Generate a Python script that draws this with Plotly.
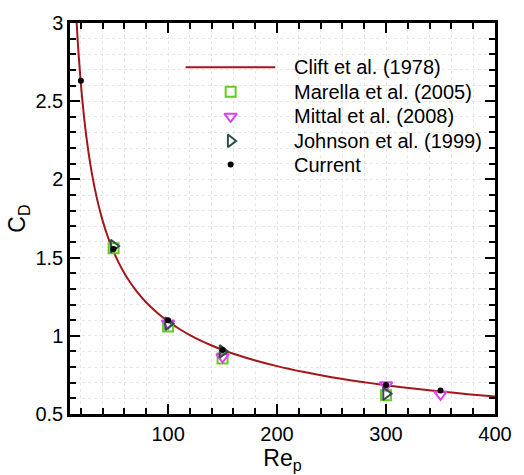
import plotly.graph_objects as go

# Drag coefficient of a sphere versus particle Reynolds number
# Correlation curve (Clift et al. 1978), sampled
clift_re = [16, 17, 18, 20, 22, 25, 30, 35, 40, 45, 50, 55, 60, 65, 70, 75, 80,
            85, 90, 95, 100, 110, 120, 130, 140, 150, 160, 180, 200, 225, 250,
            275, 300, 325, 350, 375, 400]
clift_cd = [3.01, 2.895, 2.79, 2.61, 2.459, 2.274, 2.042, 1.869, 1.735, 1.627,
            1.538, 1.463, 1.399, 1.344, 1.295, 1.252, 1.213, 1.179, 1.147,
            1.118, 1.092, 1.045, 1.005, 0.969, 0.938, 0.910, 0.885, 0.842,
            0.806, 0.768, 0.735, 0.708, 0.684, 0.663, 0.644, 0.627, 0.612]

marella_re = [50, 100, 150, 300]
marella_cd = [1.56, 1.06, 0.855, 0.62]

mittal_re = [100, 150, 300, 350]
mittal_cd = [1.08, 0.865, 0.685, 0.625]

johnson_re = [50, 100, 150, 300]
johnson_cd = [1.574, 1.077, 0.90, 0.63]

current_re = [20, 50, 100, 150, 300, 350]
current_cd = [2.63, 1.555, 1.10, 0.91, 0.685, 0.65]

FONT = "Liberation Sans, Arial, sans-serif"

# Series styles (also reused for the legend block)
series = [
    dict(name="Clift et al. (1978)", x=clift_re, y=clift_cd, mode="lines",
         line=dict(color="#a3161c", width=2), marker=None),
    dict(name="Marella et al. (2005)", x=marella_re, y=marella_cd, mode="markers",
         line=None,
         marker=dict(symbol="square-open", size=10, color="#66cc22",
                     line=dict(width=2, color="#66cc22"))),
    dict(name="Mittal et al. (2008)", x=mittal_re, y=mittal_cd, mode="markers",
         line=None,
         marker=dict(symbol="triangle-down-open", size=11, color="#e040f0",
                     line=dict(width=2, color="#e040f0"))),
    dict(name="Johnson et al. (1999)", x=johnson_re, y=johnson_cd, mode="markers",
         line=None,
         marker=dict(symbol="triangle-right-open", size=11, color="#2f4f4f",
                     line=dict(width=2, color="#2f4f4f"))),
    dict(name="Current", x=current_re, y=current_cd, mode="markers", line=None,
         marker=dict(symbol="circle", size=6, color="black")),
]

fig = go.Figure()
for s in series:
    kw = dict(x=s["x"], y=s["y"], mode=s["mode"], name=s["name"], showlegend=False)
    if s["line"] is not None:
        kw["line"] = dict(s["line"], shape="spline", smoothing=0.6)
    if s["marker"] is not None:
        kw["marker"] = s["marker"]
    fig.add_trace(go.Scatter(**kw))

# Legend block drawn on a unit overlay axis (fractions of the plot area)
LEG_LINE_X = (0.272, 0.483)
LEG_SYM_X = 0.378
LEG_TEXT_X = 0.522
LEG_ROWS_Y = [0.887, 0.824, 0.761, 0.6985, 0.638]
for s, ry in zip(series, LEG_ROWS_Y):
    if s["mode"] == "lines":
        fig.add_trace(go.Scatter(x=list(LEG_LINE_X), y=[ry, ry], mode="lines",
                                 line=s["line"], xaxis="x2", yaxis="y2",
                                 showlegend=False, hoverinfo="skip"))
    else:
        fig.add_trace(go.Scatter(x=[LEG_SYM_X], y=[ry], mode="markers",
                                 marker=s["marker"], xaxis="x2", yaxis="y2",
                                 showlegend=False, hoverinfo="skip"))
    fig.add_annotation(x=LEG_TEXT_X, y=ry, xref="x2", yref="y2", text=s["name"],
                       showarrow=False, xanchor="left", yanchor="middle",
                       font=dict(family=FONT, size=20, color="black"))

axis_common = dict(
    showline=True, linecolor="black", linewidth=2.5, mirror="allticks",
    ticks="inside", ticklen=10, tickwidth=2, tickcolor="black",
    showgrid=True, gridcolor="#e6e6e6", griddash="dot", gridwidth=1,
    zeroline=False,
    tickfont=dict(family=FONT, size=20, color="black"),
)

xaxis = dict(
    range=[10, 400], tick0=0, dtick=100,
    minor=dict(dtick=20, tick0=0, ticks="inside", ticklen=6, tickwidth=1.5,
               tickcolor="black", showgrid=True, gridcolor="#e6e6e6",
               griddash="dot"),
    title=dict(text="Re<sub>p</sub>", font=dict(family=FONT, size=23, color="black"),
               standoff=2),
    **axis_common)
yaxis = dict(
    range=[0.5, 3], tick0=0.5, dtick=0.5,
    minor=dict(dtick=0.1, tick0=0.5, ticks="inside", ticklen=6, tickwidth=1.5,
               tickcolor="black", showgrid=True, gridcolor="#e6e6e6",
               griddash="dot"),
    title=dict(text="C<sub>D</sub>", font=dict(family=FONT, size=23, color="black"),
               standoff=4),
    **axis_common)

fig.update_layout(
    width=524, height=475,
    margin=dict(l=70, r=17, t=16, b=61),
    paper_bgcolor="white", plot_bgcolor="white",
    font=dict(family=FONT, color="black"),
    showlegend=False,
    xaxis=xaxis, yaxis=yaxis,
    xaxis2=dict(overlaying="x", range=[0, 1], visible=False, fixedrange=True),
    yaxis2=dict(overlaying="y", range=[0, 1], visible=False, fixedrange=True),
)

fig.write_html("out.html")
